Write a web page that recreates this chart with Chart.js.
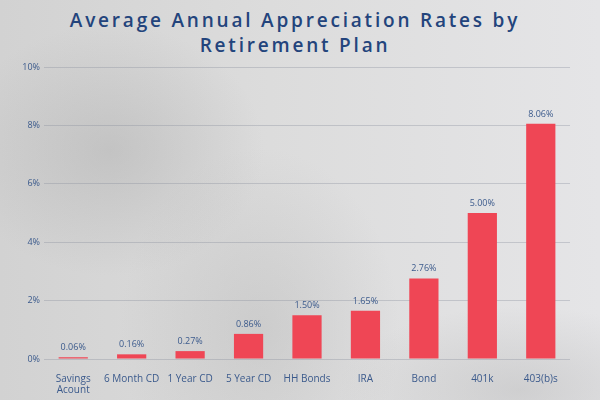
<!DOCTYPE html>
<html>
<head>
<meta charset="utf-8">
<script src="https://cdn.jsdelivr.net/npm/chart.js@4"></script>
<style>
  html, body { margin: 0; padding: 0; }
  body {
    width: 600px; height: 400px; overflow: hidden; position: relative;
    background:
      radial-gradient(ellipse 220px 180px at 110px 150px, rgba(160,160,160,0.35), rgba(160,160,160,0) 70%),
      radial-gradient(ellipse 200px 260px at 260px 330px, rgba(175,175,175,0.35), rgba(175,175,175,0) 70%),
      radial-gradient(ellipse 260px 120px at 520px 390px, rgba(170,170,170,0.35), rgba(170,170,170,0) 70%),
      linear-gradient(90deg, #d2d2d2 0%, #dcdcdc 45%, #e5e5e7 100%);
  }
  #title {
    position: absolute; left: -5px; top: 8px; width: 600px; text-align: center;
    font-family: "Open Sans", sans-serif; font-weight: 600; font-size: 19px;
    line-height: 25px; letter-spacing: 2.8px; color: #23447c;
  }
  canvas { position: absolute; left: 0; top: 0; }
</style>
</head>
<body>
<div id="title">Average Annual Appreciation Rates by<br>Retirement Plan</div>
<canvas id="chart" width="600" height="400"></canvas>
<script>
// data
const categories = [['Savings', 'Acount'], '6 Month CD', '1 Year CD', '5 Year CD', 'HH Bonds', 'IRA', 'Bond', '401k', '403(b)s'];
const rates = [0.06, 0.16, 0.27, 0.86, 1.50, 1.65, 2.76, 5.00, 8.06];
const yTicks = [0, 2, 4, 6, 8, 10];

const labelColor = '#3b5a8c';

// value labels above each bar
const valueLabels = {
    id: 'valueLabels',
    afterDatasetsDraw(chart) {
        const ctx = chart.ctx;
        const meta = chart.getDatasetMeta(0);
        ctx.save();
        ctx.font = '9px "Open Sans", sans-serif';
        ctx.fillStyle = labelColor;
        ctx.textAlign = 'center';
        ctx.textBaseline = 'bottom';
        meta.data.forEach((bar, i) => {
            ctx.fillText(rates[i].toFixed(2) + '%', bar.x, bar.y - 5);
        });
        ctx.restore();
    }
};

new Chart(document.getElementById('chart'), {
    type: 'bar',
    data: {
        labels: categories,
        datasets: [{
            data: rates,
            backgroundColor: '#ef4655',
            categoryPercentage: 0.5,
            barPercentage: 1
        }]
    },
    options: {
        responsive: false,
        animation: false,
        layout: { padding: { top: 67, right: 30, left: 0, bottom: 0 } },
        plugins: {
            legend: { display: false },
            tooltip: { enabled: false }
        },
        scales: {
            y: {
                min: 0,
                max: 10,
                afterFit: s => { s.width = 44; },
                afterBuildTicks: s => { s.ticks = yTicks.map(v => ({ value: v })); },
                ticks: {
                    padding: 4,
                    color: labelColor,
                    font: { family: 'Open Sans', size: 9 },
                    callback: v => v + '%'
                },
                grid: { color: 'rgba(135,140,155,0.35)', lineWidth: 1, drawTicks: false },
                border: { display: false }
            },
            x: {
                afterFit: s => { s.height = 41; },
                ticks: {
                    padding: 7,
                    color: labelColor,
                    font: { family: 'Open Sans', size: 10, lineHeight: 1.1 },
                    maxRotation: 0,
                    autoSkip: false
                },
                grid: { display: false },
                border: { display: false }
            }
        }
    },
    plugins: [valueLabels]
});
</script>
</body>
</html>
